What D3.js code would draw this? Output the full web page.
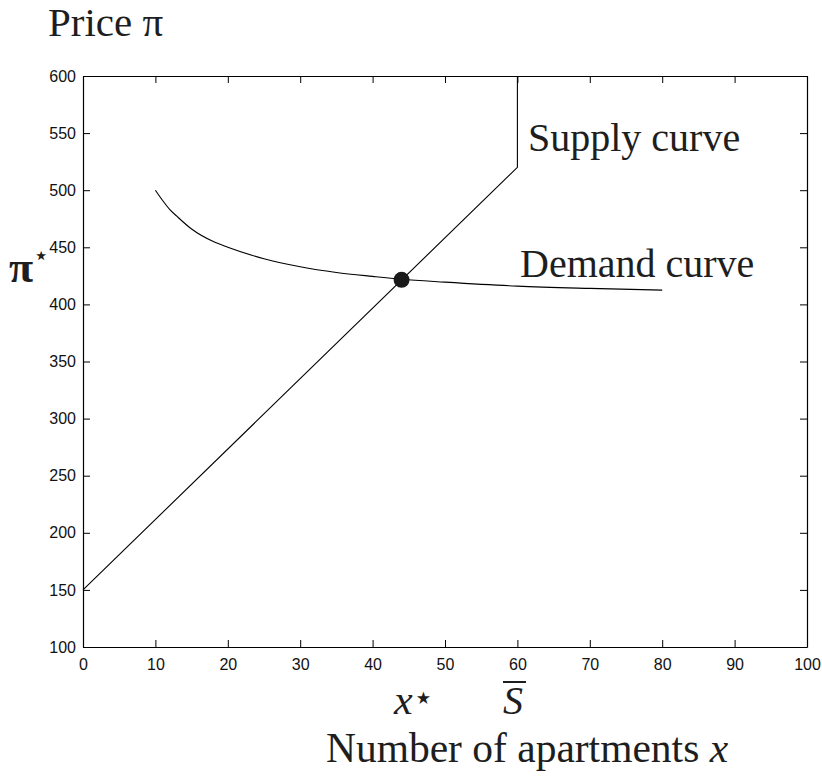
<!DOCTYPE html>
<html>
<head>
<meta charset="utf-8">
<script src="https://cdn.jsdelivr.net/npm/d3@7"></script>
<style>
  html, body { margin: 0; padding: 0; background: #fff; }
  svg { display: block; }
</style>
</head>
<body>
<svg id="chart" width="822" height="778"></svg>
<script>
// ---- data ----
const xTicks = [0, 10, 20, 30, 40, 50, 60, 70, 80, 90, 100];
const yTicks = [100, 150, 200, 250, 300, 350, 400, 450, 500, 550, 600];
const supplyX = [0, 60, 60];
const supplyY = [150, 520, 600];
const demandX = [10, 11, 12, 13, 15, 18, 20, 25, 30, 35, 40, 44, 50, 60, 70, 80];
const demandY = [500, 491, 483, 477, 466, 455, 450, 440, 433, 428, 424.5, 422, 419.5, 416, 414, 412.5];
const equilibrium = { x: 44, y: 421.5 };
const labels = {
  title: "Price π",
  xAxis: "Number of apartments ",
  supply: "Supply curve",
  demand: "Demand curve"
};

// ---- layout ----
const svg = d3.select("#chart");
const pLeft = 83, pRight = 807, pTop = 76, pBottom = 647;
const x = d3.scaleLinear().domain([0, 100]).range([pLeft, pRight]);
const y = d3.scaleLinear().domain([100, 600]).range([pBottom, pTop]);
const tickFont = "'Liberation Sans', Arial, sans-serif";
const serif = "'Liberation Serif', 'Times New Roman', serif";
const ink = "#1e1e1e";

// axes
const axB = svg.append("g").attr("transform", `translate(0,${pBottom})`)
  .call(d3.axisBottom(x).tickValues(xTicks).tickSizeInner(-7).tickSizeOuter(0).tickPadding(12));
const axT = svg.append("g").attr("transform", `translate(0,${pTop})`)
  .call(d3.axisTop(x).tickValues(xTicks).tickSizeInner(-7).tickSizeOuter(0).tickFormat(""));
const axL = svg.append("g").attr("transform", `translate(${pLeft},0)`)
  .call(d3.axisLeft(y).tickValues(yTicks).tickSizeInner(-7).tickSizeOuter(0).tickPadding(7));
const axR = svg.append("g").attr("transform", `translate(${pRight},0)`)
  .call(d3.axisRight(y).tickValues(yTicks).tickSizeInner(-7).tickSizeOuter(0).tickFormat(""));
[axB, axT, axL, axR].forEach(g => {
  g.attr("font-size", null);
  g.selectAll("path.domain").attr("stroke", "#000").attr("stroke-width", 1.2);
  g.selectAll(".tick line").attr("stroke", "#000").attr("stroke-width", 1);
  g.selectAll(".tick text").attr("font-family", tickFont).attr("font-size", 16).attr("fill", "#111");
});

// curves
const line = d3.line().x(d => x(d[0])).y(d => y(d[1]));
svg.append("path")
  .datum(supplyX.map((v, i) => [v, supplyY[i]]))
  .attr("d", line).attr("fill", "none").attr("stroke", "#000").attr("stroke-width", 1.1);
svg.append("path")
  .datum(demandX.map((v, i) => [v, demandY[i]]))
  .attr("d", d3.line().x(d => x(d[0])).y(d => y(d[1])).curve(d3.curveMonotoneX))
  .attr("fill", "none").attr("stroke", "#000").attr("stroke-width", 1.1);

// equilibrium point
svg.append("circle").attr("cx", x(equilibrium.x)).attr("cy", y(equilibrium.y))
  .attr("r", 8).attr("fill", "#1a1a1a");

// texts
svg.append("text").attr("x", 48).attr("y", 36).attr("font-family", serif)
  .attr("font-size", 41).attr("fill", ink).text(labels.title);
svg.append("text").attr("x", 528).attr("y", 151).attr("font-family", serif)
  .attr("font-size", 40).attr("fill", ink).text(labels.supply);
svg.append("text").attr("x", 520).attr("y", 277).attr("font-family", serif)
  .attr("font-size", 40).attr("fill", ink).text(labels.demand);

const xl = svg.append("text").attr("x", 527).attr("y", 762).attr("text-anchor", "middle")
  .attr("font-family", serif).attr("font-size", 41.5).attr("fill", ink);
xl.append("tspan").text(labels.xAxis);
xl.append("tspan").attr("font-style", "italic").text("x");

// π* on y axis
const pl = svg.append("text").attr("x", 9).attr("y", 282).attr("fill", ink);
pl.append("tspan").attr("font-family", serif).attr("font-size", 44).attr("font-weight", "bold").text("π");
pl.append("tspan").attr("dy", -18)
  .attr("font-family", "'DejaVu Sans', sans-serif").attr("font-size", 26).text("⋆");

// x* below axis
const xs = svg.append("text").attr("x", 394).attr("y", 714).attr("fill", ink);
xs.append("tspan").attr("font-family", serif).attr("font-size", 42).attr("font-style", "italic").text("x");
xs.append("tspan").attr("dy", -5)
  .attr("font-family", "'DejaVu Sans', sans-serif").attr("font-size", 34).text("⋆");

// S bar
svg.append("text").attr("x", 513).attr("y", 714).attr("text-anchor", "middle")
  .attr("font-family", serif).attr("font-size", 40).attr("font-style", "italic").attr("fill", ink).text("S");
svg.append("line").attr("x1", 503).attr("x2", 526).attr("y1", 682).attr("y2", 682)
  .attr("stroke", ink).attr("stroke-width", 2);
</script>
</body>
</html>
